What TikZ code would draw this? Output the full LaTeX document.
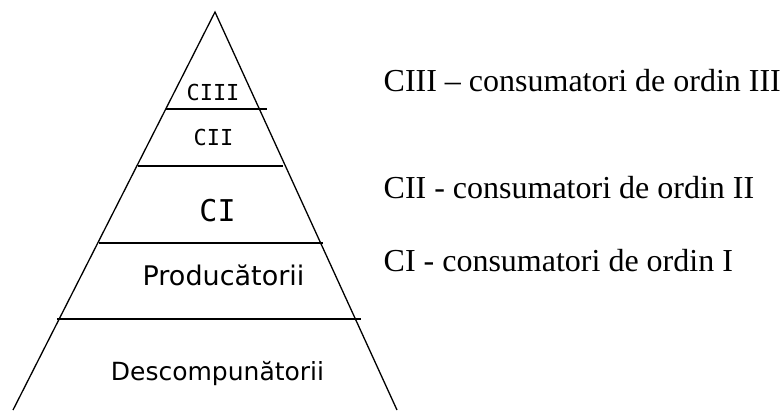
\documentclass[tikz,border=0pt]{standalone}
\usepackage{fontspec}
\setmainfont{Liberation Serif}
\newfontfamily\lvlfont{DejaVu Sans}
\newfontfamily\lvlmono{DejaVu Sans Mono}
\usepackage{tikz}

\begin{document}
\begin{tikzpicture}[x=1pt, y=-1pt, line width=1.3pt,
                    level/.style={anchor=base, inner sep=0pt},
                    legend/.style={anchor=base west, inner sep=0pt,
                                   font=\fontsize{32}{36}\selectfont}]
    \useasboundingbox (0,0) rectangle (781,410);

   % pyramid
   \coordinate (apex) at (215,12);
   \coordinate (base_left)  at (13,410);
   \coordinate (base_right) at (397,410);
   \draw (base_left) -- (apex) -- (base_right);

   % level borders
   \draw (165.7,109) -- (267,109);
   \draw (138,166)   -- (283,166);
   \draw (99,243)    -- (323,243);
   \draw (57,319)    -- (361,319);

   % levels
   \node[level, font=\lvlmono\fontsize{22}{24}\selectfont]   (ciii)  at (213,100)   {CIII};
   \node[level, font=\lvlmono\fontsize{22}{24}\selectfont]   (cii)   at (213.5,145) {CII};
   \node[level, font=\lvlmono\fontsize{30}{32}\selectfont]   (ci)    at (217.5,221.7) {CI};
   \node[level, font=\lvlfont\fontsize{27}{30}\selectfont]   (prod)  at (223.5,285) {Producătorii};
   \node[level, font=\lvlfont\fontsize{25}{28}\selectfont]   (desc)  at (217.5,380) {Descompunătorii};

   % legend
   \node[legend] (leg_ciii) at (383,91.7)  {CIII – consumatori de ordin III};
   \node[legend] (leg_cii)  at (383,198.3) {CII - consumatori de ordin II};
   \node[legend] (leg_ci)   at (383,271.5) {CI - consumatori de ordin I};

\end{tikzpicture}
\end{document}
